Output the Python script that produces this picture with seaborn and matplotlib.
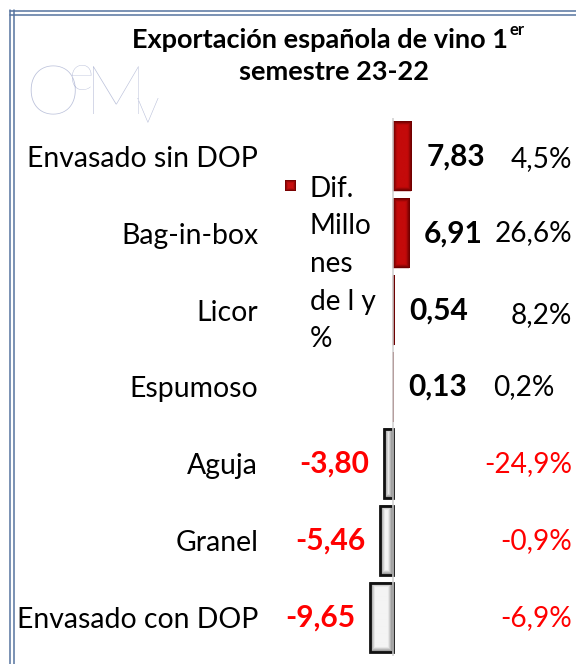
import numpy as np
import pandas as pd
import matplotlib
matplotlib.use("Agg")
import matplotlib.pyplot as plt
import seaborn as sns
from matplotlib.colors import to_rgb
from matplotlib.lines import Line2D

# ---------------- data ----------------
categories = ["Envasado sin DOP", "Bag-in-box", "Licor", "Espumoso",
              "Aguja", "Granel", "Envasado con DOP"]
dif_millones = [7.83, 6.91, 0.54, 0.13, -3.80, -5.46, -9.65]
value_labels = ["7,83", "6,91", "0,54", "0,13", "-3,80", "-5,46", "-9,65"]
pct_labels = ["4,5%", "26,6%", "8,2%", "0,2%", "-24,9%", "-0,9%", "-6,9%"]
legend_label = "Dif.\nMillo\nnes\nde l y\n%"
title_main = "Exportación española de vino 1"
title_sup = "er"
title_line2 = "semestre 23-22"
logo_text = r"$\mathregular{O\!^{e}\!M\!_{v}}$"

# ---------------- style ----------------
sns.set_theme(style="white")
plt.rcParams["font.family"] = ["Lato", "DejaVu Sans"]

W, H = 576, 664
fig = plt.figure(figsize=(W / 100, H / 100), dpi=100)
fig.patch.set_facecolor("white")

AX_L, AX_R, AX_T, AX_B = 265, 576, 118, 656
ZERO_PX, PX_PER_UNIT = 393, 2.35
ax = fig.add_axes([AX_L / W, 1 - AX_B / H, (AX_R - AX_L) / W, (AX_B - AX_T) / H])

df = pd.DataFrame({"cat": categories, "val": dif_millones})
sns.barplot(data=df, x="val", y="cat", orient="h", ax=ax, width=0.9,
            color="#a00000", saturation=1)

xlim = ((AX_L - ZERO_PX) / PX_PER_UNIT, (AX_R - ZERO_PX) / PX_PER_UNIT)
row_px = (AX_B - AX_T) / len(categories)


def bevel(w_px, h_px, edge, center, depth=4.0):
    m = max(int(round(w_px)), 2)
    n = max(int(round(h_px)), 2)
    j = np.arange(m)
    i = np.arange(n)
    dx = np.minimum(j + 0.5, m - j - 0.5) * (w_px / m)
    dy = np.minimum(i + 0.5, n - i - 0.5) * (h_px / n)
    d = np.minimum(dy[:, None], dx[None, :])
    t = np.clip(d / depth, 0, 1)[..., None]
    e = np.array(to_rgb(edge))
    c = np.array(to_rgb(center))
    return e + t * (c - e)


for patch, v in zip(ax.patches, dif_millones):
    x0, y0 = patch.get_x(), patch.get_y()
    w, h = patch.get_width(), patch.get_height()
    wpx = abs(w) * PX_PER_UNIT
    hpx = h * row_px
    if v >= 0:
        img = bevel(wpx, hpx, "#5e0000", "#c40a0a", depth=4)
        patch.set_facecolor("none")
        patch.set_edgecolor("#8a0000")
        patch.set_linewidth(0.3)
    else:
        img = bevel(wpx, hpx, "#7d7d7d", "#f4f4f4", depth=5)
        patch.set_facecolor("none")
        patch.set_edgecolor("#111111")
        patch.set_linewidth(2.0)
    xa, xb = sorted([x0, x0 + w])
    ax.imshow(img, extent=(xa, xb, y0 + h, y0), aspect="auto",
              interpolation="bilinear", zorder=patch.get_zorder() - 0.1)
    patch.set_zorder(patch.get_zorder() + 0.5)

ax.set_xlim(*xlim)
ax.set_ylim(len(categories) - 0.5, -0.5)
ax.axvline(0, color="#cfcfcf", lw=1.1, zorder=10)

for s in ax.spines.values():
    s.set_visible(False)
ax.set_xticks([])
ax.set_xlabel("")
ax.set_ylabel("")
ax.tick_params(axis="y", length=0, pad=5, labelsize=20.4, labelcolor="black")
ax.set_facecolor("none")

MAIN_FS = 20.2
off = 15 / PX_PER_UNIT
for i, (v, lab) in enumerate(zip(dif_millones, value_labels)):
    if v >= 0:
        ax.text(v + off, i, lab, ha="left", va="center", fontsize=21.5,
                fontweight="bold", color="black")
    else:
        ax.text(v - off, i, lab, ha="right", va="center", fontsize=21.5,
                fontweight="bold", color="#ff0000")

pct_x = [0.987, 0.987, 0.987, 0.932, 0.987, 0.987, 0.987]
pct_dy = [0.03, 0.0, 0.07, 0.0, 0.0, 0.0, 0.0]
for i, (v, lab) in enumerate(zip(dif_millones, pct_labels)):
    ax.text(pct_x[i], i + pct_dy[i], lab, transform=ax.get_yaxis_transform(),
            ha="right", va="center", fontsize=MAIN_FS,
            color="black" if v >= 0 else "#ff0000")

# legend (manual)
mk = bevel(11, 11, "#6a0000", "#c81010", depth=3)
fig.figimage(mk, xo=285, yo=H - 191, zorder=5)
fig.text(310 / W, 1 - 264 / H, legend_label, ha="left", va="center",
         fontsize=MAIN_FS, linespacing=1.55, color="black")

# title
TITLE_FS = 19.5
t1 = fig.text(320 / W, 1 - 40 / H, title_main, ha="center", va="center",
              fontsize=TITLE_FS, fontweight="bold", color="black")
fig.canvas.draw()
bb = t1.get_window_extent(renderer=fig.canvas.get_renderer())
fig.text((bb.x1 + 1) / W, 1 - 30 / H, title_sup, ha="left", va="center",
         fontsize=12, fontweight="bold", color="black")
fig.text(334 / W, 1 - 72 / H, title_line2, ha="center", va="center",
         fontsize=TITLE_FS, fontweight="bold", color="black")

# logo
fig.text(25 / W, 1 - 114 / H, logo_text, ha="left", va="baseline",
         fontsize=50, fontweight="light", color="#bcc2db")

# frame (double line, top and left)
fc = "#56749f"
for yy in (11, 14.5):
    fig.add_artist(Line2D([10 / W, 1], [1 - yy / H, 1 - yy / H],
                          transform=fig.transFigure, color=fc, lw=1.1))
for xx in (10, 13.5):
    fig.add_artist(Line2D([xx / W, xx / W], [1 - 10 / H, 0],
                          transform=fig.transFigure, color=fc, lw=1.1))

fig.savefig("out.png", dpi=100, facecolor="white")
